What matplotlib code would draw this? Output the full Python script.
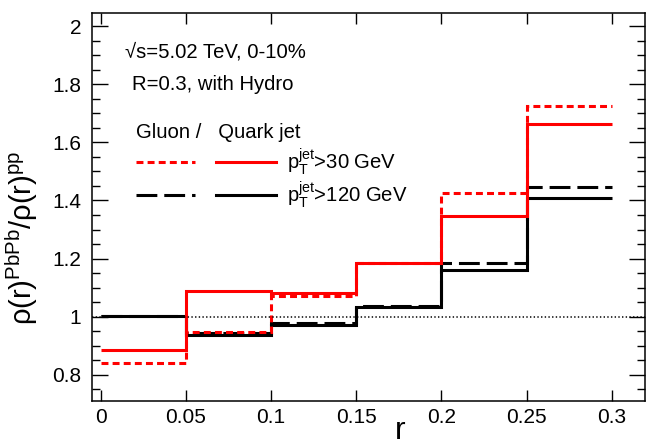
import numpy as np
import matplotlib
matplotlib.use('Agg')
import matplotlib.pyplot as plt
from matplotlib.lines import Line2D
from matplotlib.legend_handler import HandlerTuple
from matplotlib.ticker import MultipleLocator, FormatStrFormatter

plt.rcParams['font.family'] = ['Liberation Sans', 'DejaVu Sans']
plt.rcParams['mathtext.fontset'] = 'custom'
plt.rcParams['mathtext.rm'] = 'Liberation Sans'
plt.rcParams['mathtext.it'] = 'Liberation Sans'
plt.rcParams['mathtext.default'] = 'regular'
plt.rcParams['lines.scale_dashes'] = False

# bin edges in r and ratio values per bin
r_edges = [0, 0.05, 0.1, 0.15, 0.2, 0.25, 0.3]
gluon_30 = [0.840, 0.948, 1.071, 1.186, 1.426, 1.725]
quark_30 = [0.885, 1.089, 1.083, 1.186, 1.348, 1.662]
gluon_120 = [1.004, 0.943, 0.977, 1.037, 1.184, 1.446]
quark_120 = [1.004, 0.938, 0.973, 1.033, 1.161, 1.410]

lab30 = r'$p_T^{jet}$>30 GeV'
lab120 = r'$p_T^{jet}$>120 GeV'

red_dash = (0, (5, 3))
blk_dash = (0, (15, 5))
lw = 2.2

fig = plt.figure(figsize=(6.51, 4.45), dpi=100)
ax = fig.add_axes([0.1418, 0.0989, 0.849, 0.8719])

ax.axhline(1, color='black', ls=':', lw=1.1)
ax.stairs(quark_120, r_edges, baseline=None, color='black', lw=lw)
ax.stairs(gluon_120, r_edges, baseline=None, color='black', lw=lw, ls=blk_dash)
ax.stairs(quark_30, r_edges, baseline=None, color='red', lw=lw)
ax.stairs(gluon_30, r_edges, baseline=None, color='red', lw=lw, ls=red_dash)

ax.set_xlim(-0.005, 0.3195)
ax.set_ylim(0.71, 2.045)

ax.xaxis.set_major_locator(MultipleLocator(0.05))
ax.xaxis.set_major_formatter(FormatStrFormatter('%g'))
ax.yaxis.set_major_locator(MultipleLocator(0.2))
ax.yaxis.set_minor_locator(MultipleLocator(0.05))
ax.yaxis.set_major_formatter(FormatStrFormatter('%g'))
ax.tick_params(axis='both', which='both', direction='in', top=True, right=True,
               width=1.0, labelsize=15)
ax.tick_params(axis='x', which='major', length=8, pad=5)
ax.tick_params(axis='y', which='major', length=11.5, pad=8)
ax.tick_params(axis='y', which='minor', length=5.8)
for s in ax.spines.values():
    s.set_linewidth(1.1)

ax.set_xlabel('r', fontsize=23)
ax.xaxis.set_label_coords(0.557, -0.038)
ax.set_ylabel(r'$\rho(r)^{PbPb}/\rho(r)^{pp}$', fontsize=21)
ax.yaxis.set_label_coords(-0.095, 0.42)

ax.text(0.059, 0.885, '\u221as=5.02 TeV, 0-10%', transform=ax.transAxes,
        fontsize=14.6, va='baseline', ha='left')
ax.text(0.0713, 0.8015, 'R=0.3, with Hydro', transform=ax.transAxes,
        fontsize=14.6, va='baseline', ha='left')

h30 = (Line2D([], [], color='red', lw=lw, ls=red_dash), Line2D([], [], color='red', lw=lw))
h120 = (Line2D([], [], color='black', lw=lw, ls=blk_dash), Line2D([], [], color='black', lw=lw))
leg = ax.legend([h30, h120], [lab30, lab120],
                handler_map={tuple: HandlerTuple(ndivide=None, pad=1.0)},
                title='Gluon /   Quark jet', title_fontsize=14.6, fontsize=14.6,
                frameon=False, loc='upper left', bbox_to_anchor=(0.06, 0.743),
                borderpad=0, handlelength=6.9, handletextpad=0.55,
                labelspacing=0.12, alignment='left')
leg._legend_box.sep = 3.5

fig.savefig('out.png', dpi=100)
